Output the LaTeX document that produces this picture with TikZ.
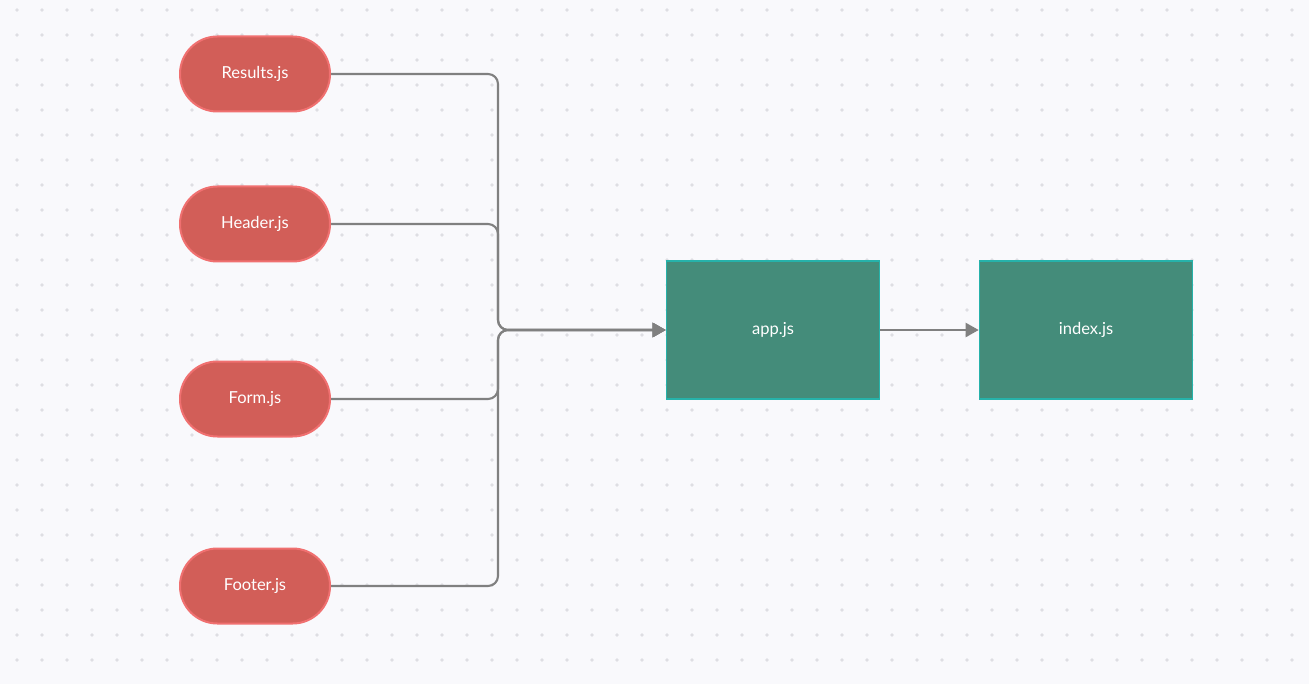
\documentclass[tikz,border=0pt]{standalone}
\usepackage{fontspec}
\setmainfont{Lato}
\usetikzlibrary{arrows.meta}
\definecolor{sheet}{RGB}{249,249,252}
\definecolor{griddot}{RGB}{222,222,227}
\definecolor{pillfill}{RGB}{210,94,88}
\definecolor{pillline}{RGB}{240,112,112}
\definecolor{boxfill}{RGB}{68,140,122}
\definecolor{boxline}{RGB}{38,178,170}
\definecolor{wiregray}{RGB}{128,128,128}
\tikzset{
  component/.style={draw=pillline, fill=pillfill, line width=1.5pt,
    rounded corners=28pt, minimum width=112.5pt, minimum height=56.25pt,
    text=white, font=\fontsize{12.4}{15}\selectfont},
  module/.style={draw=boxline, fill=boxfill, line width=1.2pt,
    minimum width=159.75pt, minimum height=103.5pt,
    text=white, font=\fontsize{12.4}{15}\selectfont},
  wire/.style={draw=wiregray, line width=1.6pt, rounded corners=7.5pt,
    -{Triangle[length=9.75pt, width=10.5pt]}}
}
\begin{document}
\begin{tikzpicture}[x=0.75pt, y=-0.75pt]
    % Sfondo a puntini
    \useasboundingbox (0,0) rectangle (1309,684);
    \fill[sheet] (0,0) rectangle (1309,684);
    \foreach \i in {0,...,51}
      \foreach \j in {0,...,26}
        \fill[griddot] (17+25*\i, 10+25*\j) circle (1.8);

    % Componenti a sinistra
    \node[component] (results) at (255,74) {Results.js};
    \node[component] (header) at (255,224) {Header.js};
    \node[component] (form) at (255,399) {Form.js};
    \node[component] (footer) at (255,586) {Footer.js};

    % Moduli a destra
    \node[module] (app) at (773,330) {app.js};
    \node[module] (index) at (1086,330) {index.js};

    % Punto di raccolta sulla linea verticale
    \coordinate (bus) at (498,330);

    % Collegamenti
    \draw[wire] (results.east) -| (bus) -- (app.west);
    \draw[wire] (header.east) -| (bus) -- (app.west);
    \draw[wire] (form.east) -| (bus) -- (app.west);
    \draw[wire] (footer.east) -| (bus) -- (app.west);
    \draw[wire, rounded corners=0pt] (app.east) -- (index.west);
\end{tikzpicture}
\end{document}
